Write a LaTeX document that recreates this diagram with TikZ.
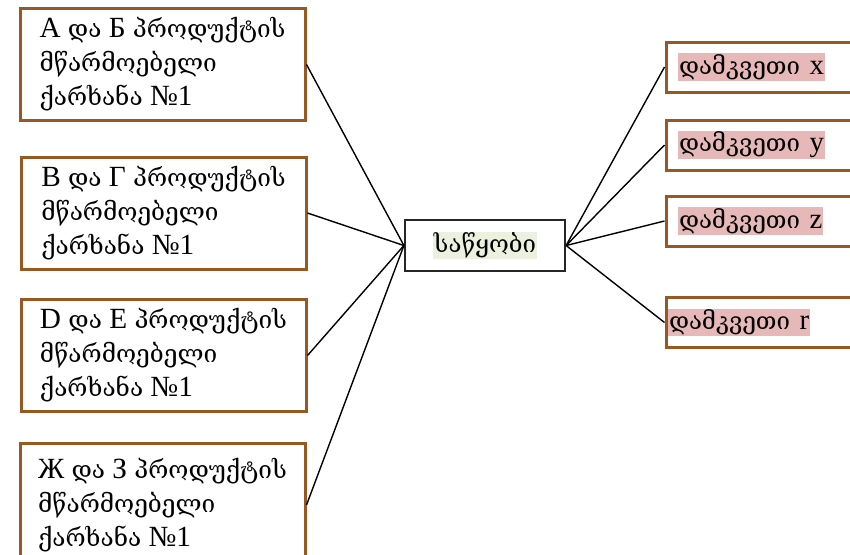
\documentclass[tikz,border=0pt]{standalone}
\usepackage{fontspec}
\setmainfont{Liberation Serif}[Scale=1.2]
\newfontfamily\geo{DejaVu Serif}
\newcommand{\kat}[1]{{\geo #1}}
\definecolor{boxBrown}{RGB}{152,88,34}
\definecolor{markPink}{RGB}{230,185,184}
\definecolor{markGreen}{RGB}{235,241,222}
\setlength{\fboxsep}{0.5pt}
\begin{document}
\begin{tikzpicture}[x=0.5pt,y=-0.5pt]
%styles des noeuds
\tikzstyle{factory}=[rectangle, draw=boxBrown, line width=1.5pt, inner sep=0pt, minimum width=142.5pt, minimum height=56pt, align=left, font=\fontsize{12.2}{17}\selectfont]
\tikzstyle{store}=[rectangle, draw=black!85, line width=1.1pt, minimum width=80pt, minimum height=25.5pt, font=\fontsize{12}{15}\selectfont]
\tikzstyle{client}=[rectangle, draw=boxBrown, line width=1.5pt, inner sep=0pt, minimum width=107pt, minimum height=25pt, text width=95pt, align=left, font=\fontsize{12}{15}\selectfont]
\tikzstyle{link}=[line width=0.7pt]
\clip (0,0) rectangle (850,554);
%factories
\node[factory] (f1) at (162.5,64.5) {A \kat{და} Б \kat{პროდუქტის}\\\kat{მწარმოებელი}\\\kat{ქარხანა} №1};
\node[factory] (f2) at (163.5,213) {B \kat{და} Γ \kat{პროდუქტის}\\\kat{მწარმოებელი}\\\kat{ქარხანა} №1};
\node[factory] (f3) at (163.5,355.5) {D \kat{და} E \kat{პროდუქტის}\\\kat{მწარმოებელი}\\\kat{ქარხანა} №1};
\node[factory, minimum height=62pt] (f4) at (162.5,505) {Ж \kat{და} З \kat{პროდუქტის}\\\kat{მწარმოებელი}\\\kat{ქარხანა} №1};
%storage
\node[store] (store) at (485,245.5) {\colorbox{markGreen}{\kat{საწყობი}}};
%clients
\node[client] (cx) at (773,67) {\colorbox{markPink}{\kat{დამკვეთი} x}};
\node[client] (cy) at (773,145) {\colorbox{markPink}{\kat{დამკვეთი} y}};
\node[client] (cz) at (773,221) {\colorbox{markPink}{\kat{დამკვეთი} z}};
\node[client, text width=105pt] (cr) at (773,322.5) {\colorbox{markPink}{\kat{დამკვეთი} r}};
%lines
\draw[link] (f1.east) -- (store.west);
\draw[link] (f2.east) -- (store.west);
\draw[link] (f3.east) -- (store.west);
\draw[link] (f4.east) -- (store.west);
\draw[link] (store.east) -- (cx.west);
\draw[link] (store.east) -- (cy.west);
\draw[link] (store.east) -- (cz.west);
\draw[link] (store.east) -- (cr.west);
\end{tikzpicture}
\end{document}
